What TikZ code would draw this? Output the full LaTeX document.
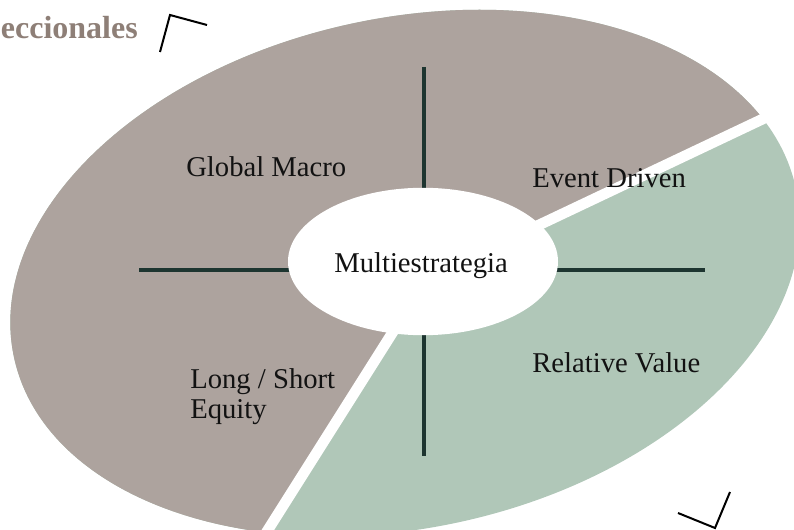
\documentclass[tikz,border=0pt]{standalone}
\usepackage{fontspec}
\setmainfont{Liberation Serif}
\definecolor{brownfill}{HTML}{ADA39E}
\definecolor{greenfill}{HTML}{B0C7B8}
\definecolor{crossline}{HTML}{1D3530}
\definecolor{titlecol}{HTML}{8E7F77}
\tikzset{
  lbl/.style={inner sep=0pt, font=\fontsize{21.5}{22.5}\selectfont, text=black!93},
  crossbar/.style={draw=crossline, line width=3pt},
  gapline/.style={draw=white, line width=8pt},
  corner/.style={draw=black, line width=1.5pt},
}
\begin{document}
\begin{tikzpicture}[x=0.75pt,y=-0.75pt]
\useasboundingbox (0,0) rectangle (794,530);
% outer tilted ellipse
\begin{scope}
  \path[clip, shift={(405,273)}, rotate=12.2] (0,0) ellipse [x radius=400, y radius=255];
  \fill[greenfill] (0,0) rectangle (794,530);
  \fill[brownfill] (427,278) -- (900,54) -- (900,-100) -- (-100,-100) -- (-100,700) -- (175,677) -- cycle;
\end{scope}
\coordinate (P) at (427,278);
\coordinate (Up) at (900,54);
\coordinate (Dn) at (175,677);
\draw[gapline] (P) -- (Up);
\draw[gapline] (P) -- (Dn);
% cross
\coordinate (vt) at (424,67);
\coordinate (vb) at (424,456);
\coordinate (hl) at (139,270);
\coordinate (hr) at (705,270);
\draw[crossbar] (vt) -- (vb);
\draw[crossbar] (hl) -- (hr);
% center ellipse
\fill[white] (423,261.5) ellipse [x radius=135, y radius=73.7];
\node[lbl, anchor=base west] (multi) at (334,272.5) {Multiestrategia};
\node[lbl, anchor=base west] (gm) at (186,177) {Global Macro};
\node[lbl, anchor=base west] (ed) at (532,188) {Event Driven};
\node[lbl, anchor=base west] (rv) at (532,373) {Relative Value};
\node[lbl, anchor=north west, align=left] (ls) at (190,368.5) {Long / Short\\Equity};
\node[inner sep=0pt, anchor=base east, font=\fontsize{24}{25}\bfseries\selectfont, text=titlecol] (title) at (138,39) {eccionales};
% corner marks
\coordinate (c1a) at (160,52);
\coordinate (c1b) at (170,15);
\coordinate (c1c) at (207,25);
\draw[corner] (c1a) -- (c1b) -- (c1c);
\coordinate (c2a) at (678,513);
\coordinate (c2b) at (715,528);
\coordinate (c2c) at (730,492);
\draw[corner] (c2a) -- (c2b) -- (c2c);
\end{tikzpicture}
\end{document}
